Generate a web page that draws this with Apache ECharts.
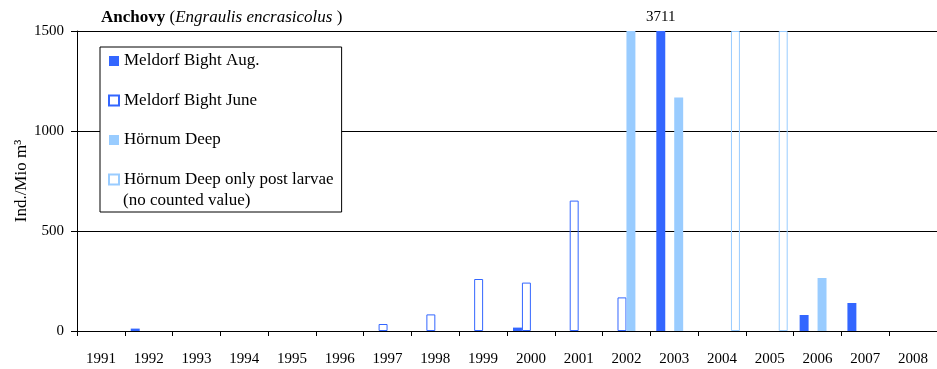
<!DOCTYPE html>
<html>
<head>
<meta charset="utf-8">
<script src="https://cdn.jsdelivr.net/npm/echarts@6/dist/echarts.min.js"></script>
<style>
html,body{margin:0;padding:0;background:#fff;}
#chart{width:937px;height:369px;}
</style>
</head>
<body>
<div id="chart"></div>
<script>
// ---- data ----
var years = ['1991','1992','1993','1994','1995','1996','1997','1998','1999','2000','2001','2002','2003','2004','2005','2006','2007','2008'];
var meldorfAug  = [null, 12, null, null, null, null, null, null, null, 17, null, null, 3711, null, null, 80, 140, null];
var meldorfJune = [null, null, null, null, null, null, 35, 83, 260, 242, 652, 168, null, null, null, null, null, null];
var hoernumDeep = [null, null, null, null, null, null, null, null, null, null, null, 1500, 1168, null, null, 265, null, null];
var hoernumPostLarvae = [null, null, null, null, null, null, null, null, null, null, null, null, null, 1500, 1500, null, null, null];
var seriesNames = ['Meldorf Bight Aug.', 'Meldorf Bight June', 'Hörnum Deep', 'Hörnum Deep only post larvae'];
var yTicks = [0, 500, 1000, 1500];

var FONT = '"Liberation Serif", "Times New Roman", serif';
var yMax = yTicks[yTicks.length - 1];
var chart = echarts.init(document.getElementById('chart'));

function barSeries(name, data, fill, stroke) {
  return {
    name: name,
    type: 'bar',
    data: data,
    barGap: '0%',
    barCategoryGap: '25%',
    clip: true,
    itemStyle: { color: fill, borderColor: stroke, borderWidth: stroke === 'transparent' ? 0 : 1 },
    emphasis: { disabled: true },
    label: {
      show: true,
      position: 'top',
      distance: 6,
      color: '#000',
      fontFamily: FONT,
      fontSize: 15,
      formatter: function (p) { return p.value > yMax ? String(p.value) : ''; }
    }
  };
}

chart.setOption({
  animation: false,
  backgroundColor: '#fff',
  textStyle: { fontFamily: FONT, color: '#000' },
  title: {
    left: 101,
    top: 9,
    padding: 0,
    text: '{b|Anchovy} ({i|Engraulis encrasicolus })',
    textStyle: {
      fontFamily: FONT, fontSize: 17, lineHeight: 17, fontWeight: 'normal', color: '#000',
      rich: {
        b: { fontFamily: FONT, fontSize: 17, lineHeight: 17, fontWeight: 'bold', color: '#000' },
        i: { fontFamily: FONT, fontSize: 17, lineHeight: 17, fontStyle: 'italic', color: '#000' }
      }
    }
  },
  grid: { left: 77, right: 0, top: 31, bottom: 38, containLabel: false, outerBoundsMode: 'none' },
  legend: {
    orient: 'vertical',
    left: 100,
    top: 47,
    padding: [5.5, 8, 24, 8],
    itemGap: 22.5,
    itemWidth: 10,
    itemHeight: 10,
    icon: 'rect',
    backgroundColor: '#fff',
    borderColor: '#000',
    borderWidth: 1,
    selectedMode: false,
    data: seriesNames,
    textStyle: { fontFamily: FONT, fontSize: 17, lineHeight: 17, color: '#000' }
  },
  graphic: [{
    type: 'text',
    left: 123,
    top: 192,
    z: 100,
    style: { text: '(no counted value)', fontFamily: FONT, fontSize: 17, fill: '#000' }
  }],
  xAxis: {
    type: 'category',
    data: years,
    boundaryGap: true,
    axisLine: { lineStyle: { color: '#000', width: 1 } },
    axisTick: { show: true, length: 5, lineStyle: { color: '#000' } },
    axisLabel: { color: '#000', fontFamily: FONT, fontSize: 15, margin: 21, interval: 0 },
    splitLine: { show: false }
  },
  yAxis: {
    type: 'value',
    min: 0,
    max: yMax,
    interval: 500,
    name: 'Ind./Mio m³',
    nameLocation: 'middle',
    nameGap: 47,
    nameMoveOverlap: false,
    nameTextStyle: { fontFamily: FONT, fontSize: 17, color: '#000' },
    axisLine: { show: true, lineStyle: { color: '#000', width: 1 } },
    axisTick: { show: true, length: 6, lineStyle: { color: '#000' } },
    axisLabel: { color: '#000', fontFamily: FONT, fontSize: 15, margin: 13,
      formatter: function (v) { return yTicks.indexOf(v) >= 0 ? String(v) : ''; } },
    splitLine: { show: true, lineStyle: { color: '#000', width: 1 } }
  },
  series: [
    barSeries(seriesNames[0], meldorfAug, '#3366FF', 'transparent'),
    barSeries(seriesNames[1], meldorfJune, 'rgba(255,255,255,0)', '#3366FF'),
    barSeries(seriesNames[2], hoernumDeep, '#99CCFF', 'transparent'),
    barSeries(seriesNames[3], hoernumPostLarvae, 'rgba(255,255,255,0)', '#99CCFF')
  ]
});
</script>
</body>
</html>
